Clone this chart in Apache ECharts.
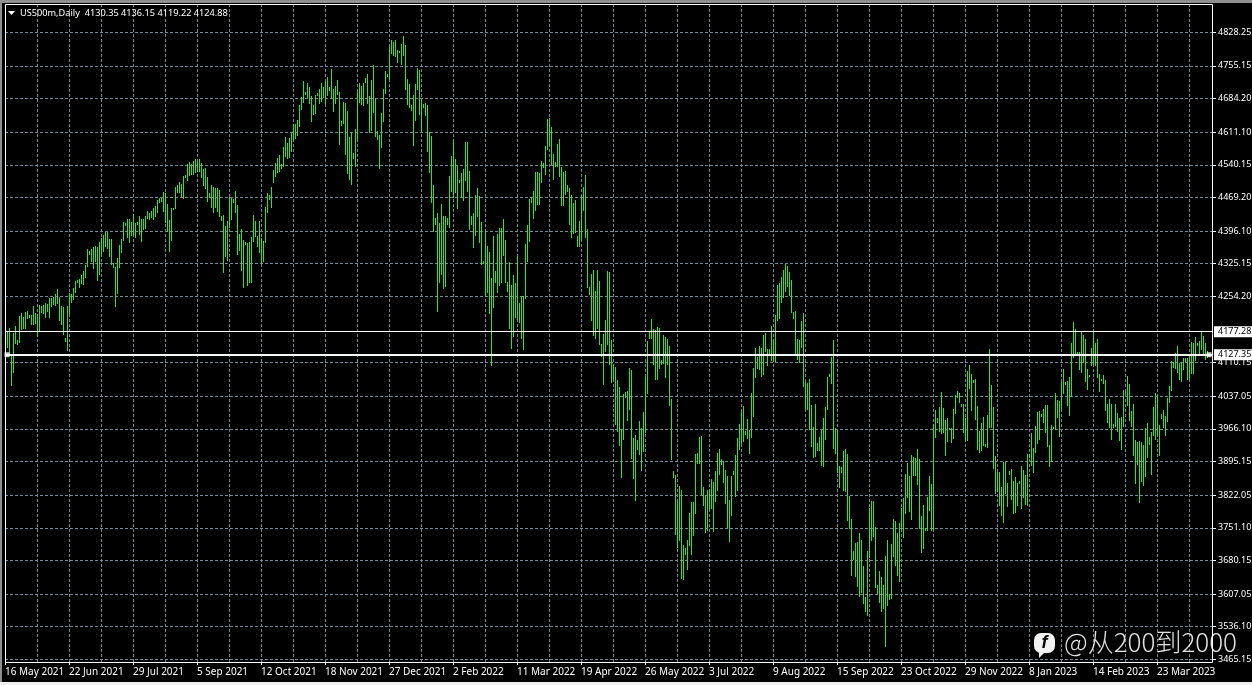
<!DOCTYPE html>
<html><head><meta charset="utf-8">
<style>html,body{margin:0;padding:0;background:#000;overflow:hidden}#c{width:1252px;height:685px}</style>
<script src="https://cdn.jsdelivr.net/npm/echarts@6/dist/echarts.min.js"></script>
</head><body><div id="c"></div>
<script>
const highs=[4181,4177,4186,4127,4175,4190,4159,4211,4218,4209,4220,4222,4214,4214,4233,4218,4216,4235,4233,4235,4240,4238,4251,4251,4253,4259,4270,4253,4233,4231,4164,4233,4261,4259,4272,4288,4290,4292,4301,4309,4322,4357,4353,4357,4361,4364,4361,4372,4381,4387,
4394,4394,4379,4379,4327,4318,4338,4366,4379,4416,4414,4422,4422,4416,4433,4414,4416,4429,4422,4422,4429,4440,4435,4440,4446,4451,4464,4468,4468,4481,4479,4455,4420,4446,4446,4492,4496,4503,4498,4516,4518,4542,4546,4542,4548,4553,4548,4553,4544,4531,
4533,4514,4479,4496,4492,4490,4490,4485,4429,4431,4407,4418,4470,4468,4466,4483,4453,4390,4401,4377,4372,4370,4372,4383,4431,4418,4385,4418,4381,4375,4448,4479,4475,4492,4529,4544,4555,4562,4542,4579,4601,4588,4598,4611,4629,4629,4638,4670,4688,4722,
4699,4718,4709,4690,4670,4692,4696,4705,4718,4709,4720,4731,4709,4748,4705,4711,4725,4699,4635,4677,4675,4657,4601,4611,4566,4618,4699,4718,4711,4718,4729,4738,4690,4725,4757,4683,4614,4605,4653,4705,4744,4738,4796,4811,4807,4811,4790,4788,4803,4820,
4801,4727,4716,4670,4692,4716,4751,4746,4681,4672,4675,4670,4611,4603,4496,4425,4435,4414,4455,4429,4429,4425,4516,4559,4594,4553,4540,4507,4522,4531,4590,4590,4527,4429,4435,4475,4490,4472,4416,4331,4396,4364,4351,4294,4385,4309,4390,4403,4403,4422,
4377,4285,4329,4279,4301,4283,4342,4240,4255,4255,4368,4409,4466,4470,4483,4525,4525,4522,4548,4544,4581,4640,4642,4622,4564,4546,4585,4596,4535,4525,4527,4496,4490,4475,4457,4464,4385,4418,4475,4492,4518,4401,4275,4303,4312,4266,4312,4288,4151,4172,
4203,4309,4307,4159,4107,4101,4072,4057,3966,4042,4046,4049,4098,4094,3946,3953,3942,3983,3968,4003,4079,4157,4177,4205,4183,4181,4188,4185,4116,4170,4166,4161,4146,4031,3875,3866,3809,3842,3833,3714,3707,3725,3783,3807,3807,3911,3914,3949,3951,3840,
3822,3833,3833,3857,3851,3875,3914,3922,3901,3896,3877,3864,3811,3864,3875,3909,3946,3977,4003,4016,3962,3988,3964,4044,4098,4142,4122,4146,4142,4170,4175,4140,4140,4190,4159,4214,4279,4283,4296,4312,4325,4320,4307,4290,4220,4222,4161,4159,4201,4218,
4068,4066,4075,4018,3970,4020,3936,3949,3964,3990,4014,4079,4085,4122,4159,3968,3964,3885,3883,3918,3922,3911,3820,3770,3701,3718,3720,3740,3725,3668,3601,3701,3794,3809,3809,3753,3627,3657,3644,3627,3690,3725,3607,3716,3770,3766,3740,3761,3794,3816,
3868,3892,3864,3909,3905,3903,3922,3901,3777,3801,3751,3818,3864,3846,3977,4007,3990,4014,4046,4011,3985,3990,3968,3968,4009,4040,4049,4044,4020,4020,3990,4092,4105,4085,4072,4075,4016,3962,3979,3992,3933,3996,4140,4061,4014,3907,3872,3872,3840,3894,
3894,3848,3875,3879,3853,3862,3848,3853,3885,3877,3866,3911,3911,3957,3925,3972,4003,4005,3998,4009,4018,4018,3931,3975,3970,4044,4029,4027,4068,4096,4068,4070,4079,4153,4198,4183,4133,4133,4177,4170,4161,4096,4083,4142,4177,4153,4161,4085,4075,4083,
4072,4020,4031,4020,3977,4020,4001,3990,3992,4051,4046,4081,4064,4005,4020,3942,3938,3940,3938,3931,3968,3979,3949,3959,4014,4044,4040,3975,3998,4007,3994,4033,4059,4114,4112,4131,4146,4109,4109,4120,4120,4120,4125,4155,4153,4166,4153,4157,4177,4168,
4153,4136.15];
const lows=[4133,4142,4127,4059,4087,4151,4148,4153,4181,4183,4183,4205,4207,4192,4192,4194,4166,4177,4218,4216,4207,4220,4207,4231,4235,4233,4238,4201,4192,4170,4155,4135,4216,4240,4246,4261,4283,4272,4281,4279,4294,4318,4344,4329,4314,4329,4288,4301,4340,4351,
4361,4357,4340,4322,4316,4231,4259,4316,4349,4375,4407,4381,4370,4385,4385,4381,4409,4388,4372,4398,4401,4422,4420,4425,4420,4427,4435,4457,4459,4437,4414,4394,4351,4375,4442,4444,4479,4479,4470,4466,4511,4505,4516,4518,4518,4522,4525,4525,4511,4494,
4488,4459,4468,4446,4435,4446,4437,4427,4418,4305,4340,4331,4403,4420,4457,4435,4344,4353,4309,4272,4366,4277,4283,4283,4372,4383,4361,4349,4325,4329,4370,4435,4464,4446,4501,4514,4522,4525,4531,4535,4557,4553,4555,4568,4594,4596,4603,4622,4659,4675,
4692,4686,4672,4633,4648,4651,4690,4672,4677,4686,4672,4690,4701,4686,4655,4672,4692,4583,4625,4629,4562,4520,4507,4496,4553,4535,4592,4675,4670,4668,4718,4672,4609,4614,4653,4601,4594,4531,4577,4633,4694,4731,4725,4781,4777,4775,4762,4783,4757,4777,
4703,4670,4664,4657,4581,4635,4703,4648,4611,4664,4646,4568,4522,4457,4394,4409,4220,4283,4301,4270,4275,4409,4403,4481,4468,4479,4444,4501,4468,4462,4505,4481,4398,4409,4359,4385,4427,4370,4322,4325,4253,4261,4216,4103,4229,4283,4261,4277,4283,4342,
4283,4264,4183,4140,4166,4207,4205,4196,4161,4138,4248,4329,4372,4457,4422,4440,4453,4453,4501,4533,4518,4572,4581,4540,4507,4535,4535,4514,4451,4451,4475,4481,4409,4381,4390,4392,4361,4361,4375,4440,4381,4272,4257,4201,4168,4161,4183,4148,4122,4061,
4133,4148,4105,4066,4075,3975,3959,3929,3859,3942,4033,3983,4007,3901,3857,3809,3920,3909,3875,3916,3957,4042,4161,4161,4105,4072,4072,4096,4105,4107,4077,4105,4016,3899,3859,3735,3707,3722,3640,3638,3692,3659,3711,3692,3733,3781,3890,3890,3822,3798,
3740,3744,3792,3792,3742,3807,3831,3866,3888,3848,3803,3751,3720,3777,3866,3818,3831,3920,3933,3938,3953,3944,3912,3946,3992,4077,4096,4094,4079,4083,4133,4103,4127,4114,4112,4112,4201,4205,4240,4251,4264,4275,4255,4218,4205,4129,4116,4109,4142,4057,
4009,4007,3964,3927,3903,3905,3918,3918,3885,3883,3942,4007,4079,4064,3922,3912,3870,3838,3870,3831,3829,3766,3748,3646,3681,3644,3622,3601,3609,3585,3568,3559,3685,3722,3731,3620,3607,3588,3568,3575,3492,3581,3594,3596,3688,3668,3646,3633,3748,3729,
3781,3816,3785,3768,3864,3864,3844,3748,3696,3705,3744,3744,3788,3744,3746,3946,3979,3959,3955,3957,3907,3938,3964,3935,3944,3998,4033,4022,4014,3957,3940,3940,4053,4005,4066,3985,3920,3914,3918,3929,3927,3925,3968,3968,3879,3824,3829,3798,3777,3761,
3824,3796,3866,3811,3781,3783,3798,3846,3792,3816,3801,3798,3903,3885,3870,3914,3933,3942,3992,3979,3957,3927,3883,3894,3966,3964,3990,3948,4009,4042,4061,4016,3994,4035,4120,4129,4127,4094,4088,4109,4068,4051,4079,4103,4105,4103,4077,4046,4070,4064,
4005,3979,3968,3942,3968,3970,3959,3940,3920,3970,4042,4016,3983,3970,3907,3846,3888,3805,3851,3842,3862,3903,3931,3866,3951,3942,3953,3907,3988,3968,3951,3981,4022,4048,4098,4096,4088,4072,4068,4094,4111,4072,4075,4085,4085,4114,4146,4129,4138,4127,
4116,4119.22];
const dateLabels=['16 May 2021','22 Jun 2021','29 Jul 2021','5 Sep 2021','12 Oct 2021','18 Nov 2021','27 Dec 2021','2 Feb 2022','11 Mar 2022','19 Apr 2022','26 May 2022','3 Jul 2022','9 Aug 2022','15 Sep 2022','23 Oct 2022','29 Nov 2022','8 Jan 2023','14 Feb 2023','23 Mar 2023'];
const priceTicks=[3465.15,3536.10,3607.05,3680.15,3751.10,3822.05,3895.15,3966.10,4037.05,4110.15,4254.20,4325.15,4396.10,4469.20,4540.15,4611.10,4684.20,4755.15,4828.25];
const priceLines=[4177.28,4127.35];
const headerText='US500m,Daily  4130.35 4136.15 4119.22 4124.88';
const watermark='@从200到2000';

const FONT='"Noto Sans"';
const categories=[];
for(let i=0;i<605;i++)categories.push(i%32===0&&dateLabels[i/32]?dateLabels[i/32]:'');
const barData=highs.map((h,i)=>[i,h,lows[i]]);

const chart=echarts.init(document.getElementById('c'),null,{renderer:'canvas'});
chart.setOption({
  animation:false,
  backgroundColor:'#000',
  grid:{left:5,top:4,width:1208,height:658,show:false,outerBoundsMode:'none'},
  title:{text:headerText,left:20,top:7,padding:0,textStyle:{color:'#fff',fontSize:9.2,fontWeight:'normal',fontFamily:FONT,lineHeight:12}},
  xAxis:{type:'category',data:categories,boundaryGap:false,
    axisLine:{show:false},
    axisTick:{show:true,interval:31,length:3,lineStyle:{color:'#fff'}},
    axisLabel:{interval:31,color:'#fff',fontSize:10,fontFamily:FONT,align:'left',margin:5,showMinLabel:true,hideOverlap:false},
    splitLine:{show:true,interval:15,lineStyle:{color:'#778899',type:[3,2],width:1}}},
  yAxis:{type:'value',position:'right',min:3459.3,max:4889.8,scale:true,
    axisLine:{show:false},
    axisTick:{show:true,length:3,customValues:priceTicks,lineStyle:{color:'#fff'}},
    axisLabel:{customValues:priceTicks,color:'#fff',fontSize:9,fontFamily:FONT,margin:5,formatter:v=>v.toFixed(2)},
    splitLine:{show:true,lineStyle:{color:'#778899',type:[3,2],width:1}}},
  series:[
    {type:'custom',data:barData,encode:{x:0,y:[1,2]},clip:true,z:2,silent:true,
      renderItem(params,api){
        const a=api.coord([api.value(0),api.value(1)]);
        const b=api.coord([api.value(0),api.value(2)]);
        return {type:'line',shape:{x1:a[0]+0.5,y1:Math.round(a[1]),x2:a[0]+0.5,y2:Math.round(b[1])},style:{stroke:'#2ce62c',lineWidth:1}};
      }},
    {type:'line',data:[],z:4,silent:true,
      markLine:{silent:true,symbol:'none',animation:false,z:5,
        data:[
          {yAxis:priceLines[0],lineStyle:{color:'#fff',width:1,type:'solid'}},
          {yAxis:priceLines[1],lineStyle:{color:'#f4f8f4',width:2,type:'solid'}}],
        label:{show:true,position:'end',distance:1,color:'#000',backgroundColor:'#fff',fontSize:9,fontFamily:FONT,padding:[0,2,0,4],width:33,height:11,lineHeight:11,formatter:p=>p.value.toFixed(2)}}},
    {type:'scatter',z:6,silent:true,symbol:'rect',symbolSize:[5,5],itemStyle:{color:'#fff'},data:[[1,priceLines[1]],[602,priceLines[1]]]}
  ],
  graphic:[
    {type:'rect',z:10,silent:true,shape:{x:5.5,y:4.5,width:1207,height:658},style:{fill:null,stroke:'#fff',lineWidth:1}},
    {type:'rect',z:10,silent:true,shape:{x:0,y:0,width:1252,height:3},style:{fill:'#8f8f8f'}},
    {type:'rect',z:10,silent:true,shape:{x:0,y:0,width:2,height:682},style:{fill:'#8f8f8f'}},
    {type:'rect',z:10,silent:true,shape:{x:0,y:682,width:1252,height:3},style:{fill:'#f0f0f0'}},
    {type:'polygon',z:10,silent:true,shape:{points:[[8,11],[15,11],[11.5,15]]},style:{fill:'#fff'}},
    {type:'rect',z:11,silent:true,shape:{x:1034,y:633,width:21,height:20,r:7},style:{fill:'#f2f2f2'}},
    {type:'polygon',z:11,silent:true,shape:{points:[[1039,650],[1039,658],[1046,651]]},style:{fill:'#f2f2f2'}},
    {type:'text',z:12,silent:true,style:{x:1044.5,y:643,text:'f',fill:'#000',font:'italic bold 18px "Liberation Sans"',align:'center',verticalAlign:'middle'}},
    {type:'text',z:12,silent:true,style:{x:1064,y:642,text:watermark,fill:'rgba(255,255,255,0.88)',font:'300 26px "Noto Sans CJK SC"',verticalAlign:'middle'}}
  ]
});
</script></body></html>
